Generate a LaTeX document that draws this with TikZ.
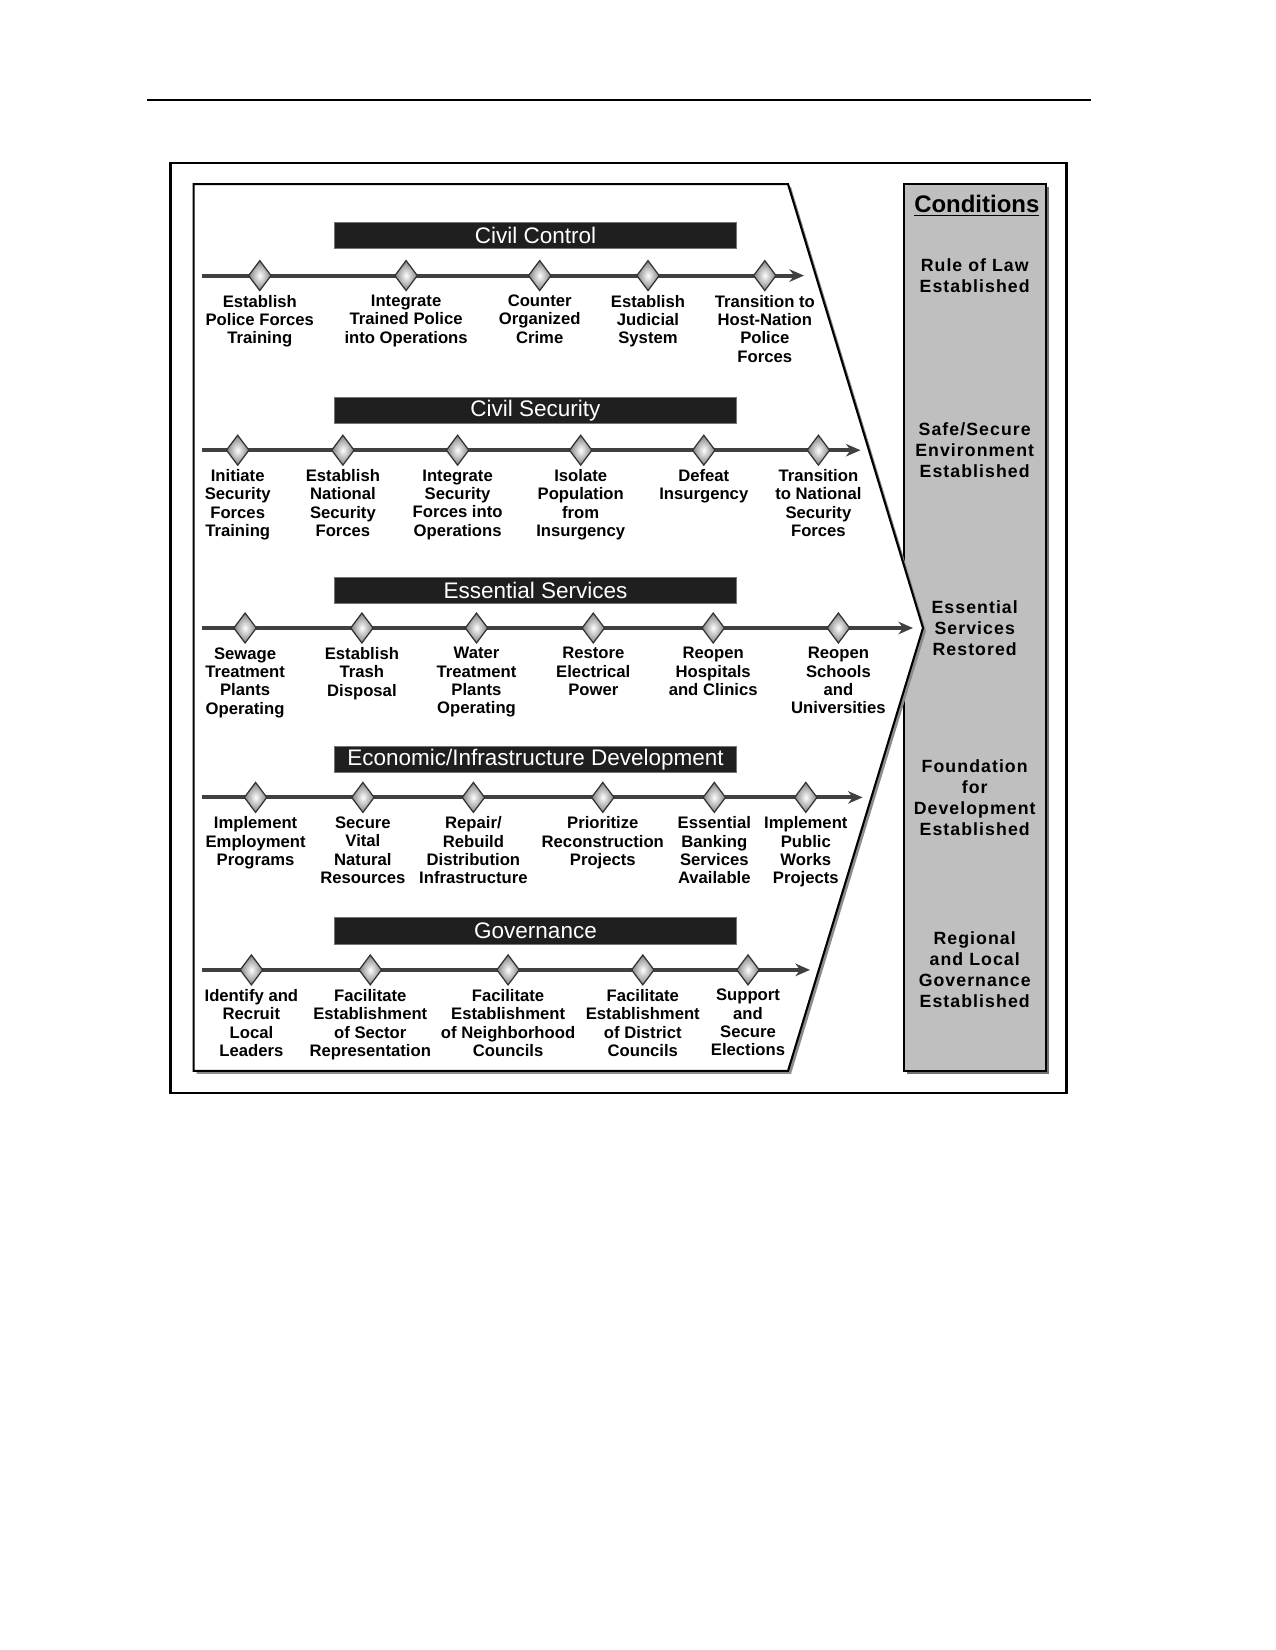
\documentclass[tikz,border=0pt]{standalone}
\usepackage{fontspec}
\setmainfont{Liberation Sans}
\newfontfamily\condfont[LetterSpace=6]{Liberation Sans}
\usetikzlibrary{positioning,shapes.geometric,arrows.meta}

\tikzset{
  phasebar/.style={fill=black!88, draw=black!55, text=white, inner sep=0pt,
    minimum width=192.9pt, minimum height=12.6pt, font=\fontsize{10.8}{12}\selectfont},
  milestone/.style={diamond, draw=black!80, line width=.6pt, inner sep=0pt,
    minimum width=11pt, minimum height=14.6pt,
    shading=radial, inner color=white, outer color=black!50},
  task/.style={align=center, inner sep=0pt, font=\bfseries\fontsize{8}{8.8}\selectfont},
  lane/.style={line width=2pt, draw=black!75, -{Stealth[length=7pt,width=6pt]}},
  cond/.style={align=center, inner sep=0pt, font=\condfont\bfseries\fontsize{8.5}{10.1}\selectfont}
}

\begin{document}
\begin{tikzpicture}[x=0.48pt, y=-0.48pt]
  \useasboundingbox (0,0) rectangle (1275,1650);
  % page rule and frame
  \draw[line width=1pt] (147.3,99.9) -- (1090.9,99.9);
  \draw[line width=1.2pt] (170.4,163.1) rectangle (1066.7,1093);

  % conditions column
  \fill[black!55] (906.7,187.1) rectangle (1048.7,1073.9);
  \draw[line width=1pt, fill=black!25] (903.7,184.1) rectangle (1045.7,1070.9);

  % lines of effort panel
  \fill[black!45] (196.6,187.1) -- (791,187.1) -- (926,631) -- (791,1073.9) -- (196.6,1073.9) -- cycle;
  \draw[line width=1pt, fill=white] (193.6,184.1) -- (788,184.1) -- (923,628) -- (788,1070.9) -- (193.6,1070.9) -- cycle;

  \node[font=\bfseries\fontsize{11.5}{13}\selectfont] (condhead) at (976.8,206.2) {\underline{Conditions}};
  \node[cond] (c1) at (974.7,275.6) {Rule of Law\\Established};
  \node[cond] (c2) at (974.7,450.2) {Safe/Secure\\Environment\\Established};
  \node[cond] (c3) at (974.7,628) {Essential\\Services\\Restored};
  \node[cond] (c4) at (974.7,797.4) {Foundation\\for\\Development\\Established};
  \node[cond] (c5) at (974.7,969.9) {Regional\\and Local\\Governance\\Established};

  % Civil Control
  \node[phasebar] (ccbar) at (535.5,235.6) {Civil Control};
  \coordinate (ccs) at (202,275.6);
  \coordinate (cce) at (804,275.6);
  \draw[lane] (ccs) -- (cce);
  \node[milestone] (cc1) at (259.8,275.6) {};
  \node[milestone] (cc2) at (406.1,275.6) {};
  \node[milestone] (cc3) at (539.7,275.6) {};
  \node[milestone] (cc4) at (648,275.6) {};
  \node[milestone] (cc5) at (764.8,275.6) {};
  \node[task, below=1.5pt of cc1] (cct1) {Establish\\Police Forces\\Training};
  \node[task, below=1.5pt of cc2] (cct2) {Integrate\\Trained Police\\into Operations};
  \node[task, below=1.5pt of cc3] (cct3) {Counter\\Organized\\Crime};
  \node[task, below=1.5pt of cc4] (cct4) {Establish\\Judicial\\System};
  \node[task, below=1.5pt of cc5] (cct5) {Transition to\\Host-Nation\\Police\\Forces};

  % Civil Security
  \node[phasebar] (csbar) at (535.5,410.3) {Civil Security};
  \coordinate (css) at (202,450.2);
  \coordinate (cse) at (860.5,450.2);
  \draw[lane] (css) -- (cse);
  \node[milestone] (cs1) at (237.7,450.2) {};
  \node[milestone] (cs2) at (342.9,450.2) {};
  \node[milestone] (cs3) at (457.6,450.2) {};
  \node[milestone] (cs4) at (580.7,450.2) {};
  \node[milestone] (cs5) at (703.8,450.2) {};
  \node[milestone] (cs6) at (818.4,450.2) {};
  \node[task, below=1.5pt of cs1] (cst1) {Initiate\\Security\\Forces\\Training};
  \node[task, below=1.5pt of cs2] (cst2) {Establish\\National\\Security\\Forces};
  \node[task, below=1.5pt of cs3] (cst3) {Integrate\\Security\\Forces into\\Operations};
  \node[task, below=1.5pt of cs4] (cst4) {Isolate\\Population\\from\\Insurgency};
  \node[task, below=1.5pt of cs5] (cst5) {Defeat\\Insurgency};
  \node[task, below=1.5pt of cs6] (cst6) {Transition\\to National\\Security\\Forces};

  % Essential Services
  \node[phasebar] (esbar) at (535.5,590.2) {Essential Services};
  \coordinate (ess) at (202,628);
  \coordinate (ese) at (913,628);
  \draw[lane] (ess) -- (ese);
  \node[milestone] (es1) at (245.1,628) {};
  \node[milestone] (es2) at (361.9,628) {};
  \node[milestone] (es3) at (476.5,628) {};
  \node[milestone] (es4) at (593.3,628) {};
  \node[milestone] (es5) at (713.2,628) {};
  \node[milestone] (es6) at (838.4,628) {};
  \node[task, below=1.5pt of es1] (est1) {Sewage\\Treatment\\Plants\\Operating};
  \node[task, below=1.5pt of es2] (est2) {Establish\\Trash\\Disposal};
  \node[task, below=1.5pt of es3] (est3) {Water\\Treatment\\Plants\\Operating};
  \node[task, below=1.5pt of es4] (est4) {Restore\\Electrical\\Power};
  \node[task, below=1.5pt of es5] (est5) {Reopen\\Hospitals\\and Clinics};
  \node[task, below=1.5pt of es6] (est6) {Reopen\\Schools\\and\\Universities};

  % Economic/Infrastructure Development
  \node[phasebar] (edbar) at (535.5,759.5) {Economic/Infrastructure Development};
  \coordinate (eds) at (202,797.4);
  \coordinate (ede) at (862.6,797.4);
  \draw[lane] (eds) -- (ede);
  \node[milestone] (ed1) at (255.6,797.4) {};
  \node[milestone] (ed2) at (362.9,797.4) {};
  \node[milestone] (ed3) at (473.4,797.4) {};
  \node[milestone] (ed4) at (602.8,797.4) {};
  \node[milestone] (ed5) at (714.3,797.4) {};
  \node[milestone] (ed6) at (805.8,797.4) {};
  \node[task, below=1.5pt of ed1] (edt1) {Implement\\Employment\\Programs};
  \node[task, below=1.5pt of ed2] (edt2) {Secure\\Vital\\Natural\\Resources};
  \node[task, below=1.5pt of ed3] (edt3) {Repair/\\Rebuild\\Distribution\\Infrastructure};
  \node[task, below=1.5pt of ed4] (edt4) {Prioritize\\Reconstruction\\Projects};
  \node[task, below=1.5pt of ed5] (edt5) {Essential\\Banking\\Services\\Available};
  \node[task, below=1.5pt of ed6] (edt6) {Implement\\Public\\Works\\Projects};

  % Governance
  \node[phasebar] (gvbar) at (535.5,931) {Governance};
  \coordinate (gvs) at (202,969.9);
  \coordinate (gve) at (810,969.9);
  \draw[lane] (gvs) -- (gve);
  \node[milestone] (gv1) at (251.4,969.9) {};
  \node[milestone] (gv2) at (370.3,969.9) {};
  \node[milestone] (gv3) at (508.1,969.9) {};
  \node[milestone] (gv4) at (642.8,969.9) {};
  \node[milestone] (gv5) at (748,969.9) {};
  \node[task, below=1.5pt of gv1] (gvt1) {Identify and\\Recruit\\Local\\Leaders};
  \node[task, below=1.5pt of gv2] (gvt2) {Facilitate\\Establishment\\of Sector\\Representation};
  \node[task, below=1.5pt of gv3] (gvt3) {Facilitate\\Establishment\\of Neighborhood\\Councils};
  \node[task, below=1.5pt of gv4] (gvt4) {Facilitate\\Establishment\\of District\\Councils};
  \node[task, below=1.5pt of gv5] (gvt5) {Support\\and\\Secure\\Elections};
\end{tikzpicture}
\end{document}
